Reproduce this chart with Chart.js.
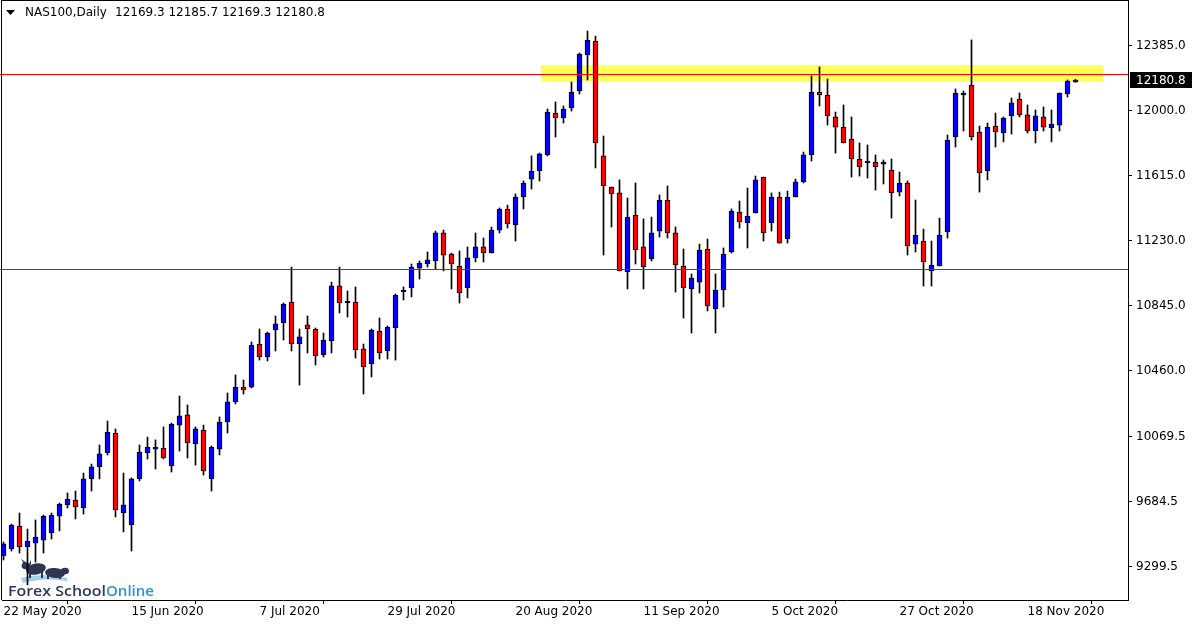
<!DOCTYPE html>
<html>
<head>
<meta charset="utf-8">
<script src="https://cdn.jsdelivr.net/npm/chart.js@4.4.1/dist/chart.umd.min.js"></script>
<style>
  html, body { margin: 0; padding: 0; background: #fff; }
  canvas { display: block; }
</style>
</head>
<body>
<canvas id="nas100" width="1200" height="627"></canvas>
<script>
// NAS100 daily candles, 22 May 2020 onwards
const symbolTitle = 'NAS100,Daily';
const lastQuote = [12169.3, 12185.7, 12169.3, 12180.8];

const opens = [
  9363, 9404, 9540, 9416, 9439, 9457, 9499, 9599, 9665, 9694,
  9647, 9819, 9890, 9973, 10091, 9617, 9546, 9819, 9973, 9996,
  10002, 9896, 10138, 10198, 10026, 10109, 9819, 9996, 10156, 10275,
  10363, 10363, 10618, 10541, 10701, 10743, 10867, 10618, 10731, 10707,
  10553, 10636, 10962, 10861, 10867, 10589, 10500, 10695, 10577, 10713,
  10926, 10950, 11068, 11092, 11110, 11276, 11151, 11080, 10950, 11128,
  11193, 11157, 11293, 11418, 11323, 11489, 11595, 11643, 11738, 11986,
  11957, 12016, 12117, 12330, 12413, 11732, 11548, 11513, 11045, 11382,
  11193, 11122, 11287, 11471, 11276, 11080, 10944, 10985, 11181, 10826,
  10938, 11163, 11400, 11335, 11394, 11607, 11335, 11489, 11240, 11489,
  11578, 11738, 12111, 12093, 11963, 11903, 11832, 11714, 11690, 11696,
  11684, 11649, 11518, 11572, 11210, 11228, 11051, 11080, 11282, 11844,
  12093, 12152, 11874, 11643, 11909, 11868, 11969, 12069, 11975, 11880,
  11963, 11898, 11915, 12099, 12169.3
];
const highs = [
  9445, 9552, 9617, 9522, 9576, 9605, 9617, 9676, 9736, 9747,
  9854, 9907, 10020, 10162, 10115, 9854, 9825, 10020, 10067, 10050,
  10127, 10150, 10310, 10257, 10127, 10138, 10014, 10186, 10328, 10435,
  10405, 10630, 10707, 10689, 10784, 10861, 11074, 10707, 10784, 10713,
  10683, 10985, 11074, 10932, 10956, 10618, 10707, 10772, 10725, 10914,
  10956, 11092, 11110, 11163, 11287, 11293, 11157, 11169, 11193, 11276,
  11246, 11311, 11424, 11441, 11507, 11584, 11732, 11749, 12010, 12052,
  12028, 12170, 12342, 12472, 12442, 11850, 11548, 11590, 11483, 11572,
  11359, 11370, 11501, 11554, 11311, 11181, 11033, 11210, 11240, 11033,
  11187, 11418, 11465, 11542, 11613, 11607, 11513, 11518, 11524, 11595,
  11755, 12206, 12259, 12188, 11992, 12034, 11963, 11809, 11797, 11738,
  11708, 11714, 11637, 11584, 11471, 11299, 11228, 11364, 11856, 12129,
  12117, 12419, 11909, 11927, 11986, 11963, 12075, 12105, 12034, 12004,
  12022, 12004, 12105, 12182, 12185.7
];
const lows = [
  9339, 9392, 9380, 9191, 9327, 9380, 9463, 9511, 9647, 9582,
  9611, 9747, 9819, 9961, 9594, 9505, 9392, 9807, 9937, 9878,
  9937, 9860, 9984, 9943, 9901, 9842, 9747, 9961, 10091, 10263,
  10322, 10358, 10523, 10518, 10577, 10642, 10577, 10375, 10565, 10494,
  10541, 10565, 10802, 10778, 10535, 10322, 10423, 10529, 10529, 10523,
  10879, 10897, 11003, 11074, 11062, 11051, 10944, 10861, 10891, 11104,
  11104, 11157, 11276, 11305, 11228, 11418, 11536, 11584, 11732, 11844,
  11927, 11998, 12099, 12182, 11661, 11145, 11311, 11051, 10944, 11092,
  10944, 11110, 11252, 11246, 10926, 10772, 10683, 10920, 10814, 10683,
  10837, 11157, 11305, 11187, 11394, 11228, 11287, 11216, 11216, 11489,
  11572, 11702, 12028, 11915, 11749, 11809, 11607, 11613, 11601, 11530,
  11566, 11364, 11495, 11145, 11163, 10962, 10962, 11080, 11246, 11785,
  11880, 11826, 11518, 11590, 11785, 11815, 11862, 11963, 11868, 11809,
  11880, 11815, 11880, 12081, 12169.3
];
const closes = [
  9434, 9546, 9416, 9451, 9475, 9599, 9605, 9670, 9700, 9653,
  9819, 9890, 9967, 10097, 9635, 9665, 9819, 9978, 10008, 10008,
  9943, 10144, 10192, 10032, 10115, 9866, 10008, 10156, 10275, 10363,
  10346, 10612, 10541, 10683, 10737, 10855, 10618, 10660, 10707, 10547,
  10642, 10962, 10861, 10861, 10583, 10482, 10701, 10565, 10719, 10908,
  10938, 11074, 11098, 11116, 11276, 11145, 11092, 10920, 11128, 11193,
  11157, 11293, 11418, 11329, 11489, 11572, 11643, 11744, 11992, 11957,
  12010, 12111, 12336, 12419, 11809, 11554, 11507, 11051, 11370, 11175,
  11074, 11276, 11471, 11276, 11086, 10950, 11009, 11175, 10843, 10938,
  11151, 11406, 11341, 11376, 11590, 11276, 11489, 11216, 11489, 11578,
  11738, 12111, 12093, 11969, 11903, 11809, 11714, 11667, 11702, 11667,
  11684, 11513, 11572, 11199, 11264, 11104, 11086, 11264, 11826, 12105,
  12093, 11844, 11631, 11903, 11874, 11957, 12046, 11975, 11880, 11969,
  11903, 11921, 12105, 12176, 12180.8
];

const priceTicks = [9299.5, 9684.5, 10069.5, 10460.0, 10845.0, 11230.0, 11615.0, 12000.0, 12385.0];
const dateTickEvery = 16;
const levelLines = [12215, 11061];
const zoneBars = [67.2, 137.4];
const zonePrices = [12176, 12271];

const monthNames = ['Jan', 'Feb', 'Mar', 'Apr', 'May', 'Jun', 'Jul', 'Aug', 'Sep', 'Oct', 'Nov', 'Dec'];
const days = [];
const day = new Date(Date.UTC(2020, 4, 22));
while (days.length < closes.length) {
  const wd = day.getUTCDay();
  if (wd !== 0 && wd !== 6) {
    days.push(day.getUTCDate() + ' ' + monthNames[day.getUTCMonth()] + ' ' + day.getUTCFullYear());
  }
  day.setUTCDate(day.getUTCDate() + 1);
}

const candleColor = opens.map((o, i) => closes[i] > o ? '#0000ff' : (closes[i] < o ? '#ff0000' : '#000000'));

function drawLogo(ctx) {
  ctx.save();
  // wave under the animals
  ctx.fillStyle = '#9fd0ee';
  ctx.beginPath();
  ctx.moveTo(21, 578);
  ctx.quadraticCurveTo(44, 572, 67, 578);
  ctx.lineTo(67, 581);
  ctx.quadraticCurveTo(44, 577, 23, 583);
  ctx.closePath();
  ctx.fill();
  // bull + bear silhouettes
  ctx.fillStyle = '#2f3452';
  ctx.beginPath();
  ctx.ellipse(36, 569, 10, 5.5, -0.2, 0, Math.PI * 2);
  ctx.fill();
  ctx.beginPath();
  ctx.ellipse(26, 566, 4.5, 3.5, 0.3, 0, Math.PI * 2);
  ctx.fill();
  ctx.fillRect(29, 572, 2, 6);
  ctx.fillRect(41, 572, 2, 6);
  ctx.beginPath();
  ctx.moveTo(24, 564); ctx.lineTo(21, 559); ctx.lineTo(27, 563); ctx.fill();
  ctx.beginPath();
  ctx.moveTo(29, 564); ctx.lineTo(31, 560); ctx.lineTo(31, 565); ctx.fill();
  ctx.beginPath();
  ctx.ellipse(55, 573, 10, 5, 0.1, 0, Math.PI * 2);
  ctx.fill();
  ctx.beginPath();
  ctx.ellipse(65, 571, 4, 3.2, 0, 0, Math.PI * 2);
  ctx.fill();
  ctx.fillRect(47, 575, 2, 4);
  ctx.fillRect(59, 575, 2, 4);
  // brand text
  ctx.textBaseline = 'alphabetic';
  ctx.font = '600 15px "Open Sans"';
  const part1 = 'Forex School', part2 = 'Online';
  const w1 = ctx.measureText(part1).width;
  const w2 = ctx.measureText(part2).width;
  ctx.fillStyle = '#2d3a5c';
  ctx.save();
  ctx.translate(8, 596);
  ctx.scale(98 / w1, 1);
  ctx.fillText(part1, 0, 0);
  ctx.restore();
  ctx.fillStyle = '#2496d9';
  ctx.save();
  ctx.translate(106, 596);
  ctx.scale(48 / w2, 1);
  ctx.fillText(part2, 0, 0);
  ctx.restore();
  ctx.restore();
}

const extras = {
  id: 'extras',
  beforeDatasetsDraw(chart) {
    const { ctx, scales: { x, y } } = chart;
    ctx.save();
    ctx.fillStyle = '#ffff55';
    const x0 = x.getPixelForValue(zoneBars[0]);
    const x1 = x.getPixelForValue(zoneBars[1]);
    const y0 = Math.round(y.getPixelForValue(zonePrices[1]));
    const y1 = Math.round(y.getPixelForValue(zonePrices[0]));
    ctx.fillRect(Math.round(x0), y0, Math.round(x1 - x0), y1 - y0);
    ctx.restore();
    drawLogo(ctx);
  },
  afterDatasetsDraw(chart) {
    const { ctx, chartArea: a, scales: { y } } = chart;
    ctx.save();
    ctx.strokeStyle = '#ff0000';
    ctx.lineWidth = 1;
    levelLines.forEach(v => {
      const py = Math.round(y.getPixelForValue(v)) + 0.5;
      ctx.beginPath();
      ctx.moveTo(0, py);
      ctx.lineTo(a.right, py);
      ctx.stroke();
    });
    ctx.restore();
  },
  afterDraw(chart) {
    const { ctx, chartArea: a, scales: { y } } = chart;
    ctx.save();
    // frame left/top
    ctx.fillStyle = '#000';
    ctx.fillRect(1, 0, 1, a.bottom);
    ctx.fillRect(1, 0, a.right - 1, 1);
    // header
    ctx.beginPath();
    ctx.moveTo(6, 10); ctx.lineTo(15, 10); ctx.lineTo(10.5, 15); ctx.closePath();
    ctx.fill();
    ctx.font = '12px "DejaVu Sans"';
    ctx.textBaseline = 'middle';
    ctx.fillStyle = '#000';
    ctx.fillText(symbolTitle, 25, 13);
    ctx.fillText(lastQuote.map(v => v.toFixed(1)).join(' '), 115, 13);
    // last price tag
    const py = Math.round(y.getPixelForValue(lastQuote[3]));
    ctx.fillRect(1130, py - 8, 62, 16);
    ctx.fillStyle = '#fff';
    ctx.fillText(lastQuote[3].toFixed(1), 1136, py + 0.5);
    ctx.restore();
  }
};

const ctx = document.getElementById('nas100').getContext('2d');
new Chart(ctx, {
  type: 'bar',
  data: {
    datasets: [
      {
        label: 'body',
        data: opens.map((o, i) => ({ x: i, y: [o, closes[i]] })),
        backgroundColor: candleColor,
        borderColor: '#000',
        borderWidth: 1,
        borderSkipped: false,
        barThickness: 5,
        minBarLength: 2,
        grouped: false
      },
      {
        label: 'wick',
        data: lows.map((l, i) => ({ x: i, y: [l, highs[i]] })),
        backgroundColor: '#000',
        borderWidth: 0,
        barThickness: 1,
        grouped: false
      }
    ]
  },
  options: {
    responsive: false,
    devicePixelRatio: 1,
    animation: false,
    layout: { padding: { left: 2, top: 0, right: 0, bottom: 0 } },
    plugins: {
      legend: { display: false },
      tooltip: { enabled: false }
    },
    scales: {
      x: {
        type: 'linear',
        offset: false,
        min: -0.1875,
        max: 140.5625,
        afterBuildTicks: s => {
          const t = [];
          for (let i = 0; i < days.length; i += dateTickEvery) t.push({ value: i });
          s.ticks = t;
        },
        afterFit: s => { s.height = 27; s.paddingLeft = 0; s.paddingRight = 0; },
        grid: { display: true, drawOnChartArea: false, drawTicks: true, tickLength: 4, color: '#000' },
        border: { display: true, color: '#000', width: 1 },
        ticks: {
          autoSkip: false,
          maxRotation: 0,
          align: 'start',
          padding: 1,
          color: '#000',
          font: { family: 'DejaVu Sans', size: 12 },
          callback: v => days[v] || ''
        }
      },
      y: {
        position: 'right',
        min: 9101.9,
        max: 12655.7,
        afterBuildTicks: s => { s.ticks = priceTicks.map(v => ({ value: v })); },
        afterFit: s => { s.width = 72; s.paddingTop = 0; s.paddingBottom = 0; },
        grid: { display: true, drawOnChartArea: false, drawTicks: true, tickLength: 4, color: '#000' },
        border: { display: true, color: '#000', width: 1 },
        ticks: {
          padding: 4,
          color: '#000',
          font: { family: 'DejaVu Sans', size: 12 },
          callback: v => Number(v).toFixed(1)
        }
      }
    }
  },
  plugins: [extras]
});
</script>
</body>
</html>
